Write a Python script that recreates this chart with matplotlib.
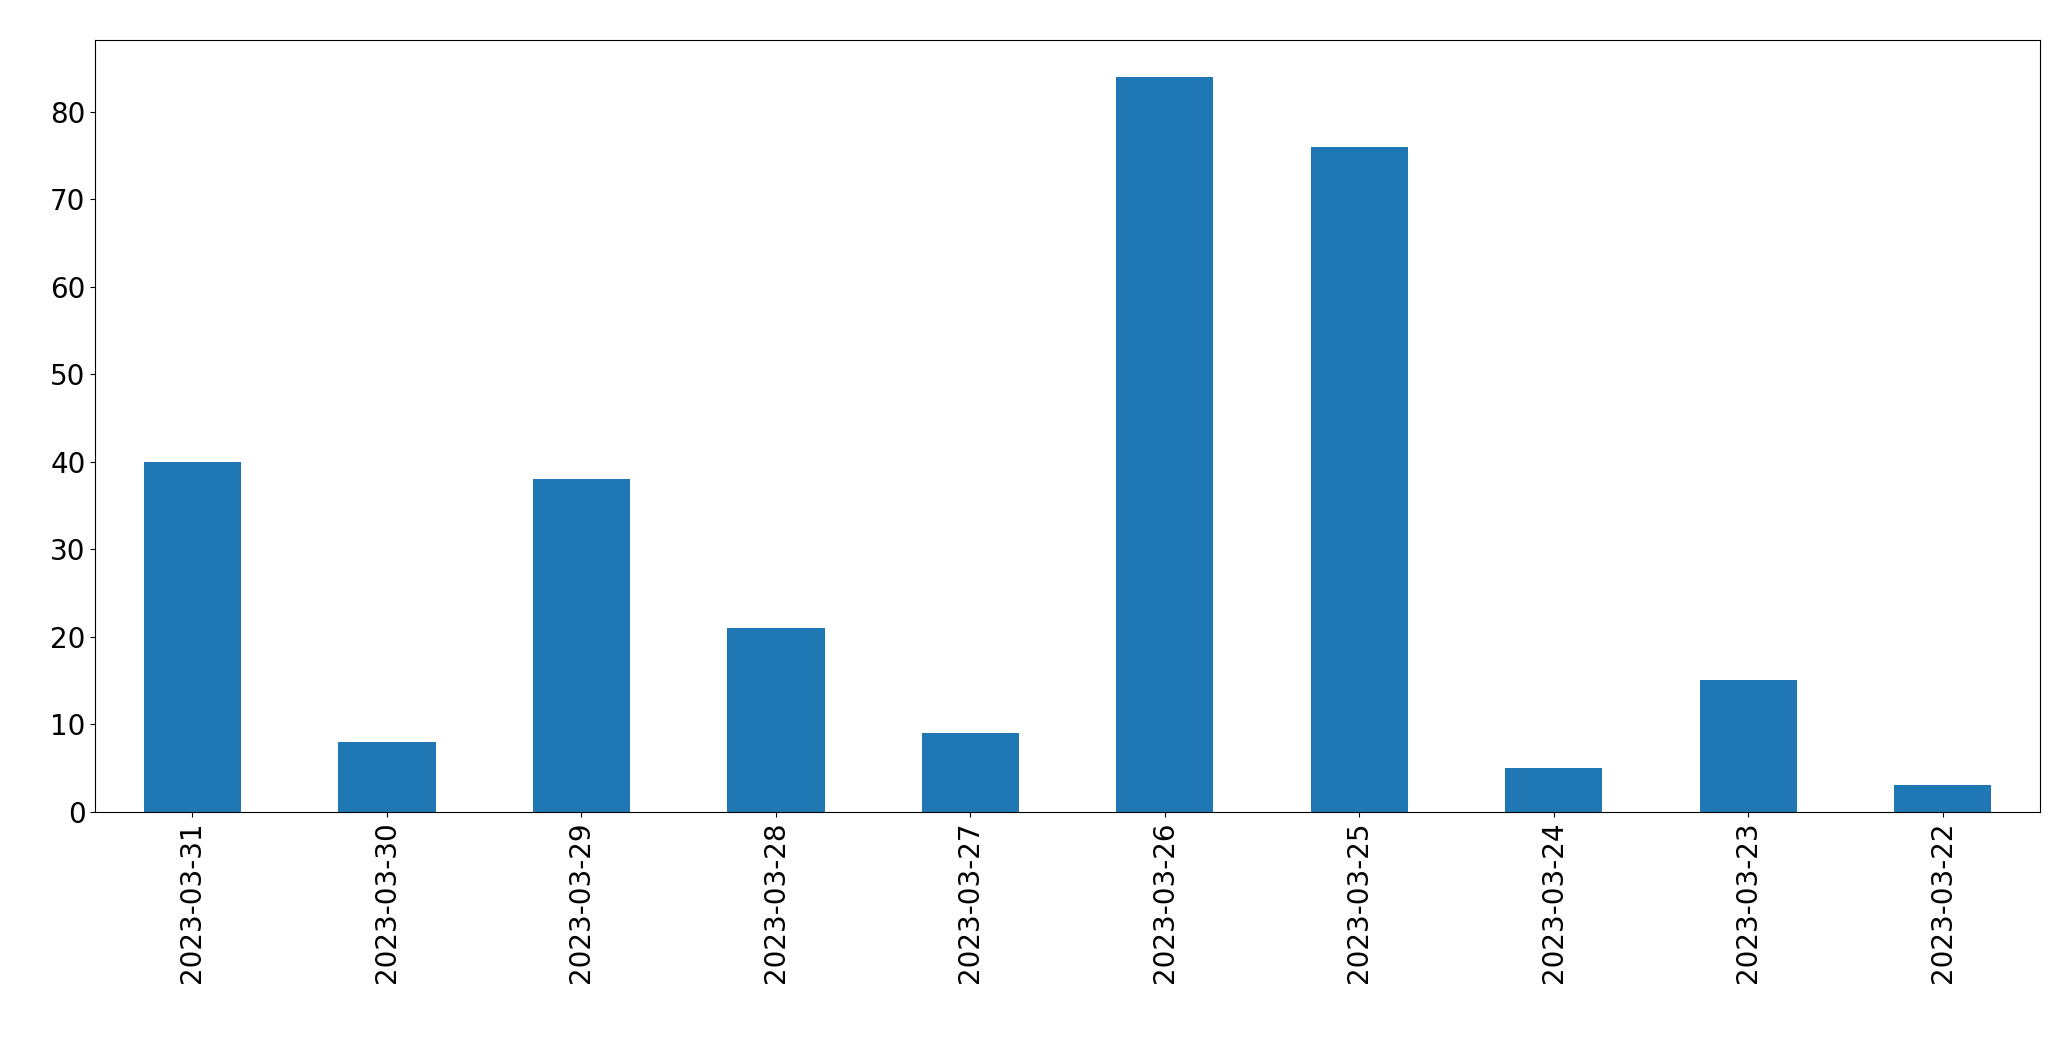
import matplotlib
matplotlib.use("Agg")
import matplotlib.pyplot as plt
import numpy as np

dates = ["2023-03-31", "2023-03-30", "2023-03-29", "2023-03-28", "2023-03-27",
         "2023-03-26", "2023-03-25", "2023-03-24", "2023-03-23", "2023-03-22"]
counts = [40, 8, 38, 21, 9, 84, 76, 5, 15, 3]

fig = plt.figure(figsize=(20.71, 10.61), dpi=100)
ax = fig.add_axes([0.046, 0.235, 0.939, 0.727])
x = np.arange(len(dates))
ax.bar(x, counts, 0.5, color="#1f77b4")
ax.set_xlim(-0.5, len(dates) - 0.5)
ax.set_ylim(0, max(counts) * 1.05)
ax.set_xticks(x)
ax.set_xticklabels(dates, rotation=90)
ax.tick_params(labelsize=20)
fig.savefig("out.png", dpi=100)
